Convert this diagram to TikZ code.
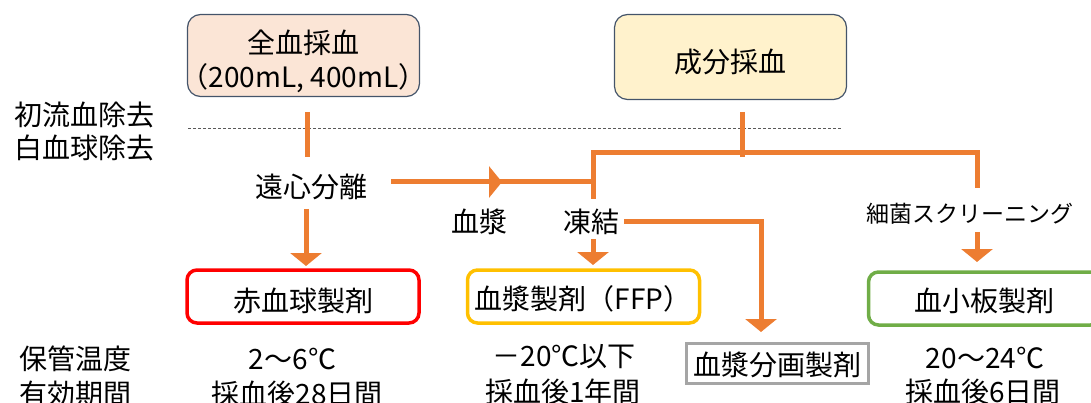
\documentclass[tikz,border=0pt]{standalone}
\usepackage{fontspec}
\setmainfont{Noto Sans CJK JP}
\usetikzlibrary{arrows.meta}
\definecolor{orng}{HTML}{ED7D31}
\definecolor{peach}{HTML}{FBE5D6}
\definecolor{lyel}{HTML}{FFF2CC}
\definecolor{boxline}{HTML}{44546A}
\definecolor{rbcred}{HTML}{FF0000}
\definecolor{ffpgold}{HTML}{FFC000}
\definecolor{pltgreen}{HTML}{70AD47}
\definecolor{fracgray}{HTML}{A5A5A5}
\definecolor{dashgray}{HTML}{595959}
\tikzset{
  txt/.style={font=\fontsize{28}{34}\selectfont, inner sep=0pt},
  smalltxt/.style={font=\fontsize{23}{28}\selectfont, inner sep=0pt},
  topbox/.style={draw=boxline, line width=1.2pt, rounded corners=13pt, minimum width=232pt, inner sep=0pt},
  prodbox/.style={line width=3.5pt, rounded corners=10pt, inner sep=0pt, minimum width=232pt, minimum height=53pt},
  oline/.style={draw=orng, line width=5pt},
  oarrow/.style={oline, -{Triangle[width=31pt,length=13pt]}},
}
\begin{document}
\begin{tikzpicture}[x=1pt,y=-1pt]
\useasboundingbox (0,0) rectangle (1091,403);
\clip (0,0) rectangle (1091,403);
% top boxes
\node[topbox, fill=peach, minimum height=82pt] (wb) at (303.5,55.5) {};
\node[txt] (wbt1) at (303.5,43) {全血採血};
\node[txt] (wbt2) at (303.5,78) {（200mL, 400mL）};
\node[topbox, fill=lyel, minimum height=85pt] (ap) at (730.5,57) {};
\node[txt] (apt) at (730.5,62) {成分採血};
% left labels
\node[txt] (l1) at (84,115) {初流血除去};
\node[txt] (l2) at (84,148) {白血球除去};
\node[txt] (l3) at (75,359) {保管温度};
\node[txt] (l4) at (75,394) {有効期間};
% dashed line
\coordinate (dA) at (188,128);
\coordinate (dB) at (841,128);
\draw[dashgray, line width=0.9pt, dash pattern=on 3pt off 2pt] (dA) -- (dB);
% middle labels
\node[txt] (cf) at (311,187) {遠心分離};
\node[txt] (pl) at (479,222) {血漿};
\node[txt] (fz) at (591,222) {凍結};
\node[smalltxt] (bs) at (970,214) {細菌スクリーニング};
% product boxes
\node[prodbox, draw=rbcred] (rbc) at (303,296.5) {};
\node[txt] (rbct) at (303,301) {赤血球製剤};
\node[prodbox, draw=ffpgold] (ffp) at (583.5,296.5) {};
\node[txt] (ffpt) at (583,299) {血漿製剤（FFP）};
\node[prodbox, draw=pltgreen] (plt) at (984.5,298.5) {};
\node[txt] (pltt) at (984.5,301) {血小板製剤};
\node[draw=fracgray, line width=3pt, minimum width=182pt, minimum height=40pt, inner sep=0pt] (frac) at (777.5,363.5) {};
\node[txt] (fract) at (777.5,365) {血漿分画製剤};
% bottom data
\node[txt] (r1) at (292.5,359) {2～6℃};
\node[txt] (r2) at (297,394) {採血後28日間};
\node[txt] (f1) at (564,357) {－20℃以下};
\node[txt] (f2) at (563,392) {採血後1年間};
\node[txt] (p1) at (985,358) {20～24℃};
\node[txt] (p2) at (983,392) {採血後6日間};
% connectors
\coordinate (wbA) at (307,112);
\coordinate (wbB) at (307,157);
\draw[oline] (wbA) -- (wbB);
\coordinate (apA) at (742,112);
\coordinate (apB) at (742,157);
\draw[oline] (apA) -- (apB);
\coordinate (cfA) at (306,209);
\coordinate (rbcTop) at (306,266);
\draw[oarrow] (cfA) -- (rbcTop);
\coordinate (hA) at (391,182);
\coordinate (hM) at (502,182);
\coordinate (hB) at (593,182);
\draw[oarrow] (hA) -- (hM);
\draw[oline] (495,182) -- (hB);
\coordinate (jB) at (593,199);
\coordinate (jT) at (593,153);
\coordinate (jR) at (977,153);
\coordinate (jRB) at (977,188);
\draw[oline, line join=miter] (jB) -- (jT) -- (jR) -- (jRB);
\coordinate (fzA) at (593,239);
\coordinate (ffpTop) at (593,265);
\draw[oarrow] (fzA) -- (ffpTop);
\coordinate (fzR) at (624,222);
\coordinate (fzC) at (761,222);
\coordinate (fracTop) at (761,332);
\draw[oarrow, line join=miter] (fzR) -- (fzC) -- (fracTop);
\coordinate (bsA) at (977,232);
\coordinate (pltTop) at (977,262);
\draw[oarrow] (bsA) -- (pltTop);
\end{tikzpicture}
\end{document}
